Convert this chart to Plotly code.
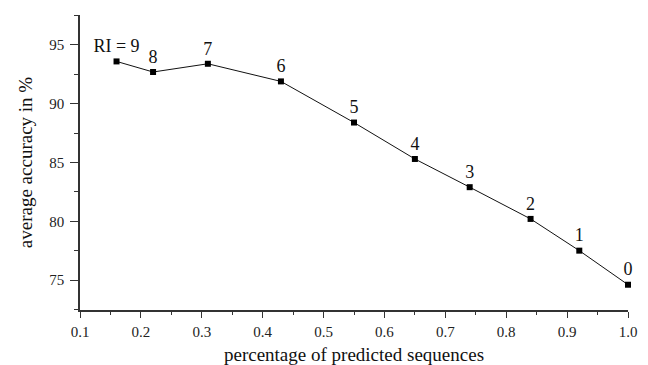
import plotly.graph_objects as go

pct_predicted = [0.16, 0.22, 0.31, 0.43, 0.55, 0.65, 0.74, 0.84, 0.92, 1.0]
avg_accuracy = [93.6, 92.7, 93.4, 91.9, 88.4, 85.3, 82.9, 80.2, 77.5, 74.6]
ri_labels = ["RI = 9", "8", "7", "6", "5", "4", "3", "2", "1", "0"]

FONT = "Liberation Serif, Times New Roman, serif"
AX = "#333333"

fig = go.Figure(
    go.Scatter(
        x=pct_predicted,
        y=avg_accuracy,
        mode="lines+markers+text",
        text=ri_labels,
        textposition="top center",
        textfont=dict(family=FONT, size=18, color="#111111"),
        line=dict(color="#111111", width=1),
        marker=dict(symbol="square", size=6, color="#000000"),
        cliponaxis=False,
        showlegend=False,
    )
)

# page body has an 8px margin, so the figure is sized/offset to compensate
fig.update_layout(
    width=640,
    height=357,
    margin=dict(l=72, r=20, t=7, b=55),
    paper_bgcolor="white",
    plot_bgcolor="white",
    font=dict(family=FONT, color="#222222"),
)

fig.update_xaxes(
    automargin=False,
    range=[0.1, 1.0],
    tickvals=[0.1, 0.2, 0.3, 0.4, 0.5, 0.6, 0.7, 0.8, 0.9, 1.0],
    tickformat=".1f",
    ticks="outside",
    ticklen=6,
    tickcolor=AX,
    tickwidth=1,
    minor=dict(dtick=0.05, tick0=0.1, ticks="outside", ticklen=3, tickcolor=AX),
    showline=True,
    linecolor=AX,
    linewidth=1.5,
    showgrid=False,
    zeroline=False,
    tickfont=dict(family=FONT, size=15, color="#222222"),
    ticklabelstandoff=1,
    title=dict(text="percentage of predicted sequences",
               font=dict(family=FONT, size=19, color="#111111"), standoff=12),
)

fig.update_yaxes(
    automargin=False,
    range=[72.45, 97.55],
    tickvals=[75, 80, 85, 90, 95],
    ticks="outside",
    ticklen=8,
    tickcolor=AX,
    tickwidth=1,
    minor=dict(dtick=2.5, tick0=75, ticks="outside", ticklen=4, tickcolor=AX),
    showline=True,
    linecolor=AX,
    linewidth=1.5,
    showgrid=False,
    zeroline=False,
    tickfont=dict(family=FONT, size=15, color="#222222"),
    ticklabelstandoff=3,
    title=dict(text="average accuracy in %",
               font=dict(family=FONT, size=19, color="#111111"), standoff=12),
)

fig.write_html("out.html")
